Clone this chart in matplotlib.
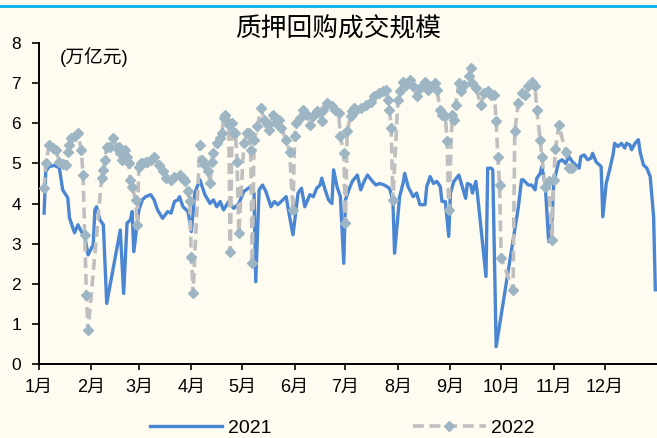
import matplotlib
matplotlib.use("Agg")
import matplotlib.pyplot as plt
from matplotlib.lines import Line2D

plt.rcParams['font.family'] = ['Liberation Sans', 'Noto Sans CJK SC']

# Day of year (0 = Jan 1) and daily pledged-repo volume, trillion yuan
days_2021 = [3, 4, 6, 9, 12, 14, 17, 18, 21, 23, 25, 27, 29, 32, 33, 34, 36, 38, 40,
             48, 50, 52, 54, 55, 56, 59, 61, 63, 66, 68, 70, 73, 76, 78, 80, 82, 83,
             85, 88, 90, 92, 95, 98, 101, 103, 105, 107, 109, 112, 115, 118, 121, 125,
             127, 128, 130, 132, 134, 137, 139, 141, 144, 146, 148, 150, 153, 155, 157,
             160, 162, 164, 166, 167, 169, 171, 173, 174, 176, 178, 180, 181, 183, 185,
             188, 190, 192, 194, 197, 199, 201, 204, 207, 209, 210, 213, 215, 216, 218,
             221, 223, 225, 228, 229, 231, 233, 235, 237, 238, 240, 242, 243, 245, 248,
             250, 252, 253, 255, 256, 258, 259, 264, 265, 267, 268, 270, 283, 285, 286,
             289, 291, 293, 294, 296, 297, 299, 301, 303, 304, 306, 307, 309, 311, 313,
             315, 317, 319, 320, 322, 324, 326, 327, 329, 331, 332, 333, 335, 337, 339,
             340, 342, 344, 346, 347, 349, 350, 352, 354, 355, 357, 359, 361, 363, 364]
vol_2021 = [3.76, 4.80, 4.92, 4.95, 4.89, 4.34, 4.14, 3.64, 3.27, 3.47, 3.30, 3.18, 2.72,
            2.97, 3.84, 3.92, 3.59, 3.47, 1.51,
            3.34, 1.76, 3.51, 3.59, 3.80, 2.80, 3.84, 4.09, 4.17, 4.22, 4.09, 3.84, 3.63,
            3.80, 3.76, 4.05, 4.09, 4.17,
            3.92, 3.80, 3.30, 4.26, 4.59, 4.22, 4.00, 4.09, 3.92, 4.05, 3.84, 4.05, 3.88,
            4.00, 4.30, 4.42,
            4.26, 2.05, 4.34, 4.46, 4.30, 3.92, 4.05, 3.97, 4.09, 4.17, 3.67, 3.22, 4.26,
            4.38, 3.92,
            4.22, 4.17, 4.38, 4.46, 4.63, 4.34, 4.09, 4.00, 4.84, 4.42, 4.17, 2.51, 4.09,
            4.34, 4.55,
            4.71, 4.34, 4.55, 4.71, 4.55, 4.46, 4.50, 4.46, 4.38, 4.09, 2.76, 4.17, 4.50,
            4.75, 4.42,
            4.17, 4.26, 3.97, 3.97, 4.42, 4.67, 4.50, 4.55, 4.42, 4.05, 4.05, 3.18, 4.26,
            4.55, 4.71,
            4.42, 4.13, 4.50, 4.46, 4.26, 4.55, 4.22, 2.18, 4.88, 4.88, 4.84, 0.43, 3.88,
            4.59, 4.59,
            4.46, 4.46, 4.34, 4.63, 4.75, 4.92, 4.46, 3.05, 3.59, 4.50, 4.88, 5.04, 5.09,
            5.00, 5.17,
            5.04, 4.96, 4.88, 5.17, 5.21, 5.09, 5.13, 5.25, 5.04, 4.96, 4.92, 3.67, 4.50,
            4.84, 5.21,
            5.50, 5.42, 5.50, 5.38, 5.50, 5.46, 5.34, 5.50, 5.59, 5.29, 4.96, 4.88, 4.67,
            3.67, 1.85]

days_2022 = [3, 4, 6, 8, 10, 12, 14, 16, 17, 18, 19, 21, 23, 25, 26, 27, 28, 29,
             37, 38, 39, 40, 42, 44, 46, 47, 48, 49, 51, 52, 53, 54, 55, 57, 58, 59, 60,
             61, 63, 64, 66, 68, 71, 73, 75, 78, 80, 83, 84, 85, 86, 88, 89, 90, 91,
             95, 96, 98, 100, 101, 102, 103, 105, 107, 108, 109, 110, 111, 112, 113,
             114, 115, 116, 117, 118, 121, 123, 124, 125, 126, 127, 129, 131, 133, 135,
             136, 138, 140, 142, 143, 146, 148, 150, 151, 152, 154, 156, 158, 160, 162,
             164, 166, 167, 168, 170, 173, 175, 177, 178, 180, 181, 182, 184, 185, 186,
             187, 190, 193, 196, 198, 201, 203, 205, 206, 207, 208, 209, 212, 213, 215,
             217, 219, 221, 223, 225, 228, 230, 232, 234, 235, 237, 238, 240, 241, 242,
             244, 245, 246, 248, 249, 251, 254, 255, 256, 258, 261, 263, 265, 267, 269,
             270, 271, 272, 273, 280, 281, 283, 285, 287, 289, 291, 293, 294, 296, 297,
             299, 301, 303, 304, 305, 307, 311, 313, 315]
vol_2022 = [4.38, 5.00, 5.46, 5.38, 5.34, 5.04, 4.98, 4.96, 5.29, 5.46, 5.63, 5.67, 5.75,
            5.34, 4.71, 3.22, 1.72, 0.85,
            4.63, 4.84, 5.09, 5.42, 5.42, 5.63, 5.38, 5.42, 5.25, 5.09, 5.34, 5.17, 5.00,
            4.59, 4.42, 4.09, 3.47, 4.92, 5.00,
            5.00, 5.04, 5.04, 5.09, 5.17, 4.96, 4.80, 4.63, 4.59, 4.67, 4.71, 4.67, 4.63,
            4.55, 4.30, 4.05, 2.66, 1.76,
            5.46, 5.09, 4.96, 4.80, 4.50, 5.04, 5.25, 5.50, 5.63, 5.75, 6.13, 6.20, 6.05,
            5.95, 2.80,
            6.00, 5.75, 5.75, 5.04, 3.26, 5.50, 5.75, 5.75, 5.34, 2.51, 5.59, 5.92, 6.38,
            6.09, 5.96,
            5.84, 6.21, 6.00, 6.09, 5.88, 5.59, 5.29, 3.84, 5.67, 6.00, 6.13, 6.33, 6.21,
            5.96, 6.17,
            6.30, 6.25, 6.05, 6.33, 6.50, 6.42, 6.33, 6.25, 5.67, 5.25, 3.51, 5.80, 6.17,
            6.30, 6.38,
            6.33, 6.38, 6.46, 6.54, 6.67, 6.75, 6.80, 6.84, 6.59, 6.33, 5.88, 4.09, 6.59,
            6.80, 7.04,
            6.96, 7.09, 6.92, 6.67, 6.88, 7.04, 6.84, 6.92, 7.00, 6.84, 6.33, 6.21, 6.17,
            5.55, 3.84,
            6.21, 6.09, 6.46, 7.00, 6.80, 6.96, 7.17, 7.38, 7.00, 6.88, 6.46, 6.75, 6.80,
            6.71, 6.71,
            6.05, 5.17, 4.46, 2.63, 1.85, 5.80, 6.50, 6.75, 6.71, 6.92, 7.04, 6.92, 6.33,
            5.59, 5.17,
            4.42, 4.55, 3.09, 4.59, 5.35, 5.96, 5.29, 4.88, 4.88]

month_ticks = [0, 31, 59, 90, 120, 151, 181, 212, 243, 273, 304, 334]
month_labels = ['1月', '2月', '3月', '4月', '5月', '6月',
                '7月', '8月', '9月', '10月', '11月', '12月']

bg = '#FEFBF1'
fig = plt.figure(figsize=(6.57, 4.38), dpi=100, facecolor=bg)
ax = fig.add_axes([39 / 657, 74 / 438, 618 / 657, 321 / 438], facecolor=bg)

ax.plot(days_2021, vol_2021, color='#4A86D2', lw=2.4, label='2021', zorder=2)
ax.plot(days_2022, vol_2022, color='#BFBFBF', lw=2.6, ls=(0, (3, 1.6)),
        marker='D', markersize=5.2, markerfacecolor='#9EB6C3',
        markeredgecolor='#9EB6C3', label='2022', zorder=3)

ax.set_xlim(0, 365)
ax.set_ylim(0, 8)
ax.set_yticks(range(0, 9))
ax.set_xticks(month_ticks)
ax.set_xticklabels(month_labels)

for side in ('top', 'right'):
    ax.spines[side].set_visible(False)
for side in ('left', 'bottom'):
    ax.spines[side].set_linewidth(1.4)
    ax.spines[side].set_color('black')
ax.tick_params(axis='y', direction='out', length=5, width=1.2, labelsize=12.5, pad=8)
ax.tick_params(axis='x', direction='out', length=4.5, width=1.2, labelsize=13, pad=6)

ax.text(0.034, 7.65, '(万亿元)', fontsize=13.5, va='center', ha='left',
        transform=ax.get_yaxis_transform())

fig.text(338 / 657, 1 - 29 / 438, '质押回购成交规模', fontsize=18.5,
         ha='center', va='center', family=['Noto Sans CJK SC'])

fig.add_artist(Line2D([0, 1], [1 - 5.5 / 438, 1 - 5.5 / 438], transform=fig.transFigure,
                      color='#00B0F0', lw=2))

fig.legend(loc='center', bbox_to_anchor=(342 / 657, 1 - 428 / 438), ncol=2,
           frameon=False, fontsize=14, handlelength=3.75, handletextpad=0.26,
           columnspacing=7.3, borderpad=0, borderaxespad=0)

fig.savefig('out.png', dpi=100, facecolor=bg)
